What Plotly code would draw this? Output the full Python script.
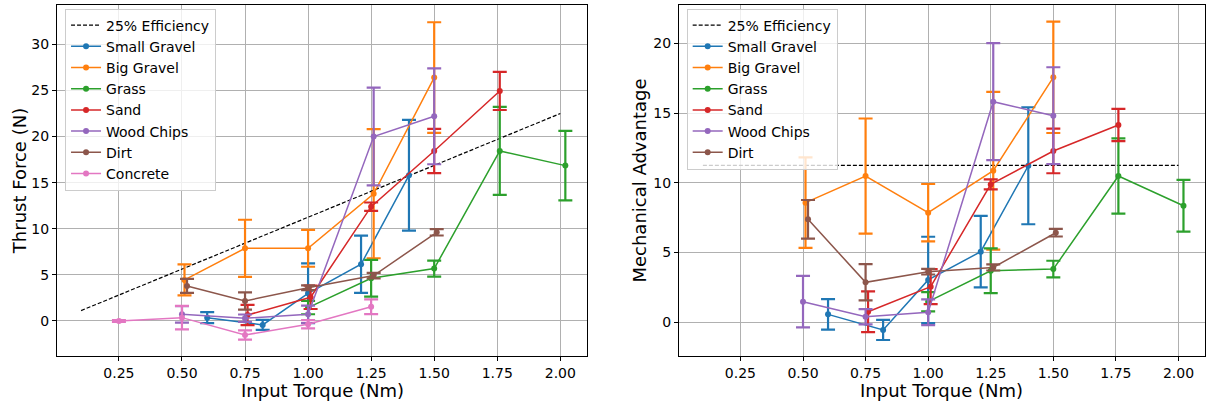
import plotly.graph_objects as go

# ---------------- data ----------------
series_names = ["Small Gravel", "Big Gravel", "Grass", "Sand", "Wood Chips", "Dirt", "Concrete"]
colors = ["#1f77b4", "#ff7f0e", "#2ca02c", "#d62728", "#9467bd", "#8c564b", "#e377c2"]

sg_x = [0.60, 0.82, 1.00, 1.21, 1.40]
bg_x = [0.51, 0.75, 1.00, 1.26, 1.50]
gr_x = [1.00, 1.25, 1.50, 1.76, 2.02]
sa_x = [0.76, 1.01, 1.25, 1.50, 1.76]
wc_x = [0.50, 0.75, 1.00, 1.26, 1.50]
di_x = [0.52, 0.75, 1.00, 1.26, 1.51]
co_x = [0.25, 0.50, 0.75, 1.00, 1.25]

# Thrust force (N)
sg_thrust = [0.36, -0.43, 3.0, 6.15, 15.8]
sg_thrust_err = [0.6, 0.54, 3.25, 3.1, 6.0]
bg_thrust = [4.45, 7.88, 7.88, 13.8, 26.4]
bg_thrust_err = [1.68, 3.1, 2.0, 7.0, 6.0]
gr_thrust = [1.45, 4.63, 5.68, 18.44, 16.85]
gr_thrust_err = [0.72, 2.0, 0.87, 4.77, 3.76]
sa_thrust = [0.65, 2.57, 12.4, 18.44, 24.95]
sa_thrust_err = [1.1, 1.27, 0.45, 2.4, 2.07]
wc_thrust = [0.72, 0.3, 0.72, 20.0, 22.2]
wc_thrust_err = [0.9, 0.4, 0.94, 5.3, 5.2]
di_thrust = [3.8, 2.17, 3.6, 4.92, 9.62]
di_thrust_err = [0.76, 0.94, 0.25, 0.3, 0.35]
co_thrust = [0.0, 0.36, -1.52, -0.36, 1.55]
co_thrust_err = [0.1, 1.27, 0.5, 0.45, 0.8]

# Mechanical advantage
sg_ma = [0.55, -0.57, 3.02, 5.05, 11.22]
sg_ma_err = [1.1, 0.72, 3.1, 2.57, 4.2]
bg_ma = [8.57, 10.48, 7.85, 10.86, 17.57]
bg_ma_err = [3.25, 4.13, 2.06, 5.66, 4.0]
gr_ma = [1.46, 3.68, 3.8, 10.48, 8.35]
gr_ma_err = [0.69, 1.6, 0.6, 2.7, 1.86]
sa_ma = [0.74, 2.54, 9.88, 12.28, 14.14]
sa_ma_err = [1.46, 1.26, 0.36, 1.6, 1.16]
wc_ma = [1.46, 0.38, 0.7, 15.82, 14.81]
wc_ma_err = [1.85, 0.55, 0.93, 4.2, 3.48]
di_ma = [7.37, 2.85, 3.61, 3.92, 6.41]
di_ma_err = [1.39, 1.3, 0.2, 0.22, 0.27]

eff_x = [0.1, 2.0]
eff_thrust = [1.125, 22.5]
eff_ma = [11.25, 11.25]

x_ticks = [0.25, 0.50, 0.75, 1.00, 1.25, 1.50, 1.75, 2.00]

left_sets = [
    (sg_x, sg_thrust, sg_thrust_err), (bg_x, bg_thrust, bg_thrust_err),
    (gr_x, gr_thrust, gr_thrust_err), (sa_x, sa_thrust, sa_thrust_err),
    (wc_x, wc_thrust, wc_thrust_err), (di_x, di_thrust, di_thrust_err),
    (co_x, co_thrust, co_thrust_err),
]
right_sets = [
    (sg_x, sg_ma, sg_ma_err), (bg_x, bg_ma, bg_ma_err),
    (gr_x, gr_ma, gr_ma_err), (sa_x, sa_ma, sa_ma_err),
    (wc_x, wc_ma, wc_ma_err), (di_x, di_ma, di_ma_err),
]

FONT = "DejaVu Sans"
fig = go.Figure()


def add_panel(sets, eff_y, xa, ya, legend):
    fig.add_trace(go.Scatter(
        x=eff_x, y=eff_y, mode="lines", name="25% Efficiency",
        line=dict(color="black", dash="4px,2px", width=1.2),
        xaxis=xa, yaxis=ya, legend=legend))
    for (xs, ys, es), name, c in zip(sets, series_names, colors):
        fig.add_trace(go.Scatter(
            x=xs, y=ys, mode="lines+markers", name=name,
            line=dict(color=c, width=1.5),
            marker=dict(color=c, size=6),
            error_y=dict(type="data", array=es, visible=True, color=c,
                         thickness=2.2, width=7),
            xaxis=xa, yaxis=ya, legend=legend))


add_panel(left_sets, eff_thrust, "x", "y", "legend")
add_panel(right_sets, eff_ma, "x2", "y2", "legend2")

axis_common = dict(
    showline=True, linecolor="black", linewidth=1, mirror=True,
    showgrid=True, gridcolor="#b0b0b0", gridwidth=1,
    ticks="outside", ticklen=4, tickcolor="black",
    tickfont=dict(family=FONT, size=14, color="black"),
    zeroline=False,
)

title_font = dict(family=FONT, size=18, color="black")
LEFT_DOM = [0, 0.4617]
RIGHT_DOM = [0.5418, 1.0]
XTITLE_Y = -0.0627

fig.update_layout(
    width=1206, height=402,
    margin=dict(l=57, r=1, t=5, b=46),
    paper_bgcolor="white", plot_bgcolor="white",
    font=dict(family=FONT, size=14, color="black"),
    xaxis=dict(domain=LEFT_DOM, range=[0.0045, 2.106], tickvals=x_ticks,
               tickformat=".2f", anchor="y", **axis_common),
    yaxis=dict(domain=[0, 1], range=[-3.8, 34.27], dtick=5, tick0=0,
               title=dict(text="Thrust Force (N)", font=title_font, standoff=0),
               anchor="x", **axis_common),
    xaxis2=dict(domain=RIGHT_DOM, range=[0.0045, 2.106], tickvals=x_ticks,
                tickformat=".2f", anchor="y2", **axis_common),
    yaxis2=dict(domain=[0, 1], range=[-2.44, 22.76], dtick=5, tick0=0,
                title=dict(text="Mechanical Advantage", font=title_font, standoff=2),
                anchor="x2", **axis_common),
    legend=dict(x=0.007, y=0.99, xanchor="left", yanchor="top",
                bgcolor="rgba(255,255,255,0.8)", bordercolor="#cccccc", borderwidth=1,
                font=dict(family=FONT, size=14, color="black"), tracegroupgap=0),
    legend2=dict(x=0.5485, y=0.99, xanchor="left", yanchor="top",
                 bgcolor="rgba(255,255,255,0.8)", bordercolor="#cccccc", borderwidth=1,
                 font=dict(family=FONT, size=14, color="black"), tracegroupgap=0),
    annotations=[
        dict(text="Input Torque (Nm)", font=title_font, showarrow=False,
             xref="paper", yref="paper", x=sum(LEFT_DOM) / 2, y=XTITLE_Y,
             xanchor="center", yanchor="top"),
        dict(text="Input Torque (Nm)", font=title_font, showarrow=False,
             xref="paper", yref="paper", x=sum(RIGHT_DOM) / 2, y=XTITLE_Y,
             xanchor="center", yanchor="top"),
    ],
)

fig.write_html("out.html")
